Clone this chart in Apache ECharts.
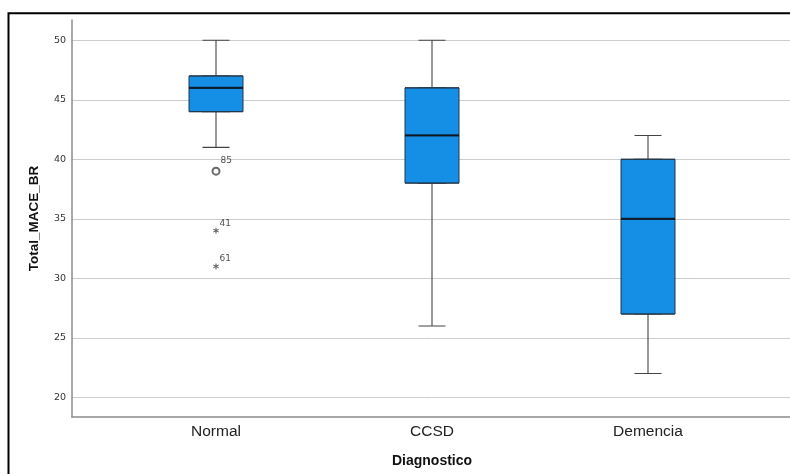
<!DOCTYPE html>
<html><head><meta charset="utf-8">
<script src="https://cdn.jsdelivr.net/npm/echarts@6/dist/echarts.min.js"></script>
<style>html,body{margin:0;padding:0;background:#fff}#c{width:790px;height:474px}</style>
</head><body><div id="c"></div>
<script>
// ---- data ----
const categories = ['Normal', 'CCSD', 'Demencia'];
const boxMin    = [41, 26, 22];
const boxQ1     = [44, 38, 27];
const boxMedian = [46, 42, 35];
const boxQ3     = [47, 46, 40];
const boxMax    = [50, 50, 42];
const outlierGroup = ['Normal', 'Normal', 'Normal'];
const outlierValue = [39, 34, 31];
const outlierCase  = ['85', '41', '61'];
const outlierKind  = ['circle', 'extreme', 'extreme'];
const yTickValues  = [20, 25, 30, 35, 40, 45, 50];
const yAxisMin = 18.35, yAxisMax = 51.7;

// ---- layout helpers: categories placed on slots of an 11-slot axis ----
const SLOTS = 11;
const slotOf = i => 2 + 3 * i;
const axisSlots = Array.from({length: SLOTS}, () => '');
categories.forEach((c, i) => { axisSlots[slotOf(i)] = c; });

const whiskerData = categories.map((c, i) => [slotOf(i), boxMin[i], boxQ1[i], boxMedian[i], boxQ3[i], boxMax[i]]);
const boxData = categories.map((c, i) => [slotOf(i), boxQ1[i], boxQ1[i], boxMedian[i], boxQ3[i], boxQ3[i]]);
const medianData = categories.map((c, i) => [slotOf(i), boxMedian[i]]);

const starPath = 'path://M-0.8,-5L0.8,-5L0.8,5L-0.8,5Z M3.93,-3.19L4.73,-1.81L-3.93,3.19L-4.73,1.81Z M-4.73,-1.81L-3.93,-3.19L4.73,1.81L3.93,3.19Z';
const mkOut = kind => outlierValue.map((v, k) => outlierKind[k] === kind ?
  {value: [slotOf(categories.indexOf(outlierGroup[k])), v], label: {formatter: outlierCase[k]}} : null).filter(Boolean);

const FONT = 'Liberation Sans';
const chart = echarts.init(document.getElementById('c'), null, {renderer: 'canvas'});
const catAxisBase = {
  type: 'category', data: axisSlots, boundaryGap: false, gridIndex: 0
};
chart.setOption({
  animation: false,
  backgroundColor: '#fff',
  graphic: [{
    type: 'rect', shape: {x: 8.5, y: 13.3, width: 900, height: 600},
    style: {fill: 'none', stroke: '#000', lineWidth: 2}, silent: true
  }],
  grid: {left: 72, width: 720, top: 20, bottom: 57, containLabel: false, outerBoundsMode: 'none'},
  xAxis: [
    Object.assign({}, catAxisBase, {
      name: 'Diagnostico', nameLocation: 'middle', nameGap: 37,
      nameTextStyle: {fontFamily: FONT, fontWeight: 'bold', fontSize: 14, color: '#111'},
      axisLine: {show: true, lineStyle: {color: '#8c8c8c', width: 1.5}},
      axisTick: {show: false},
      axisLabel: {interval: 0, fontFamily: FONT, fontSize: 15.5, color: '#222', margin: 7},
      splitLine: {show: false}
    }),
    Object.assign({}, catAxisBase, {show: false})
  ],
  yAxis: {
    type: 'value', min: yAxisMin, max: yAxisMax,
    name: 'Total_MACE_BR', nameLocation: 'middle', nameGap: 31,
    nameTextStyle: {fontFamily: FONT, fontWeight: 'bold', fontSize: 13.5, color: '#111'},
    axisLine: {show: true, lineStyle: {color: '#8c8c8c', width: 1.5}},
    axisTick: {show: false},
    axisLabel: {
      fontFamily: 'DejaVu Sans', fontSize: 9.5, color: '#333', margin: 6,
      showMinLabel: false, showMaxLabel: false,
      formatter: v => yTickValues.indexOf(Math.round(v * 100) / 100) >= 0 ? String(v) : ''
    },
    splitLine: {show: true, showMinLine: false, showMaxLine: false, lineStyle: {color: '#cdcdcd', width: 1}}
  },
  series: [
    {
      type: 'boxplot', xAxisIndex: 0, yAxisIndex: 0, data: whiskerData,
      encode: {x: 0, y: [1, 2, 3, 4, 5]},
      boxWidth: [27, 27], silent: true,
      itemStyle: {color: '#158fe5', borderColor: '#444', borderWidth: 1.1}
    },
    {
      type: 'boxplot', xAxisIndex: 1, yAxisIndex: 0, data: boxData,
      encode: {x: 0, y: [1, 2, 3, 4, 5]},
      boxWidth: [54, 54], silent: true, z: 3,
      itemStyle: {color: '#158fe5', borderColor: '#24364a', borderWidth: 1}
    },
    {
      type: 'scatter', xAxisIndex: 0, yAxisIndex: 0, data: medianData,
      symbol: 'rect', symbolSize: [54, 2.2], silent: true, z: 4,
      itemStyle: {color: '#0a0f14'}
    },
    {
      type: 'scatter', xAxisIndex: 0, yAxisIndex: 0, data: mkOut('circle'),
      symbol: 'emptyCircle', symbolSize: 7, silent: true,
      itemStyle: {color: '#444', borderWidth: 0.9},
      label: {show: true, position: [9, -11], fontFamily: 'DejaVu Sans', fontSize: 9, color: '#222'}
    },
    {
      type: 'scatter', xAxisIndex: 0, yAxisIndex: 0, data: mkOut('extreme'),
      symbol: starPath, symbolSize: 6, silent: true,
      itemStyle: {color: '#333'},
      label: {show: true, position: [6.5, -9], fontFamily: 'DejaVu Sans', fontSize: 9, color: '#222'}
    }
  ]
});
</script></body></html>
